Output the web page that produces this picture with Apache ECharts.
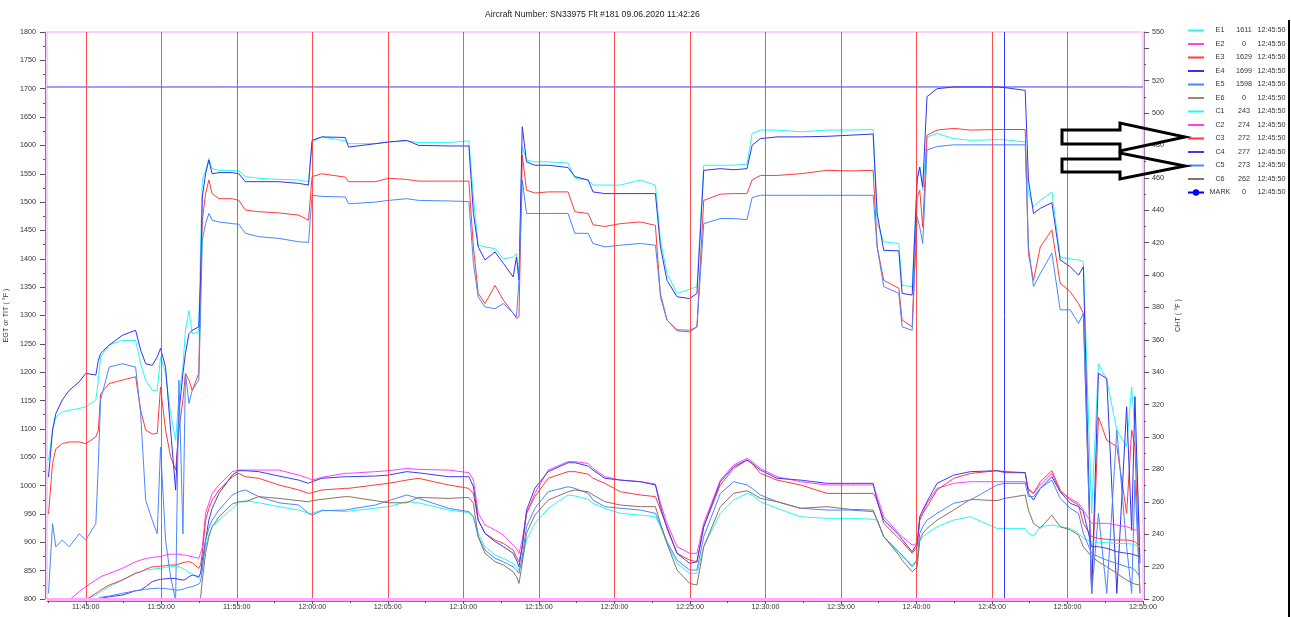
<!DOCTYPE html>
<html><head><meta charset="utf-8">
<script src="https://cdn.jsdelivr.net/npm/echarts@6/dist/echarts.min.js"></script>
<style>html,body{margin:0;padding:0;background:#fff}#c{width:1291px;height:617px}</style>
</head><body><div id="c"></div>
<script>
const titleText = 'Aircraft Number: SN33975 Flt #181 09.06.2020 11:42:26';
const axisStart = '11:42:26';
const axisEnd = '12:55:00';

const times = [
 '11:42:32','11:42:48','11:43:01','11:43:27','11:43:54','11:44:34','11:45:00','11:45:40','11:45:50','11:45:59',
 '11:46:33','11:47:25','11:48:18','11:48:38','11:48:58','11:49:24','11:49:44','11:49:57','11:50:17','11:50:37',
 '11:50:57','11:51:10','11:51:26','11:51:36','11:51:50','11:52:03','11:52:29','11:52:36','11:52:43','11:52:56',
 '11:53:09','11:53:22','11:53:49','11:54:42','11:55:08','11:55:34','11:56:27','11:57:47','11:59:06','11:59:45',
 '11:59:59','12:00:38',
 '12:02:11','12:02:24','12:04:10','12:05:03','12:06:15','12:07:02','12:09:01','12:10:22','12:10:40','12:10:59',
 '12:11:26','12:12:06','12:12:39','12:13:18','12:13:31','12:13:41','12:13:54','12:14:11','12:14:44','12:15:37',
 '12:16:56','12:17:23','12:18:16','12:18:35','12:19:22',
 '12:20:24','12:21:43','12:22:43','12:23:03','12:23:29','12:24:09','12:24:59','12:25:28','12:25:55','12:27:01',
 '12:27:54','12:28:47','12:29:07','12:29:40','12:30:46','12:32:19','12:34:05','12:35:38','12:37:08',
 '12:37:24','12:37:50','12:38:50','12:39:03','12:39:43','12:40:03','12:40:13','12:40:25','12:40:42','12:41:22',
 '12:42:28','12:43:34','12:45:20','12:45:50','12:47:12','12:47:25','12:47:45','12:48:12','12:48:58','12:49:31',
 '12:50:11','12:50:44','12:51:03','12:51:36','12:52:03','12:52:36','12:53:16','12:53:55','12:54:15','12:54:28',
 '12:54:48'
];

// EGT (left axis)
const E1 = [1045,1098,1121,1130,1133,1136,1139,1151,1186,1227,1248,1256,1256,1215,1186,1168,1168,1227,1198,1127,1080,1157,1209,1274,1309,1268,1271,1421,1539,1556,1577,1559,1556,1556,1555,1545,1542,1540,1539,1536,1606,1615,
 1608,1603,1603,1606,1608,1605,1605,1608,1509,1424,1421,1418,1400,1403,1409,1368,1598,1574,1571,1571,1569,1542,1539,1530,1530,
 1530,1539,1530,1433,1374,1339,1346,1351,1565,1565,1565,1567,1621,1627,1627,1624,1627,1627,1628,
 1462,1430,1427,1353,1351,1545,1562,1521,1615,1621,1612,1609,1610,1610,1606,1515,1492,1503,1518,1403,1400,1398,1395,951,1215,1186,1098,1069,1174,1098,904];
const E3 = [950,1039,1065,1074,1077,1077,1074,1086,1098,1162,1180,1186,1192,1133,1098,1091,1092,1174,1098,1051,1027,1098,1151,1198,1186,1168,1198,1362,1468,1515,1539,1515,1506,1506,1503,1486,1483,1481,1477,1468,1545,1550,
 1544,1536,1536,1542,1540,1537,1537,1537,1421,1339,1321,1353,1327,1304,1295,1298,1583,1521,1516,1518,1518,1483,1480,1460,1457,
 1462,1465,1459,1333,1292,1273,1271,1280,1503,1514,1515,1515,1539,1547,1547,1550,1556,1555,1556,
 1421,1362,1348,1292,1280,1509,1521,1456,1618,1627,1630,1627,1628,1628,1628,1409,1362,1421,1451,1357,1342,1321,1304,810,1121,1080,1069,951,1098,1069,810];
const E4 = [1015,1098,1127,1151,1168,1183,1198,1195,1221,1233,1248,1265,1274,1239,1215,1212,1227,1242,1209,1098,992,1127,1198,1233,1268,1274,1280,1362,1509,1550,1574,1550,1552,1552,1550,1536,1536,1536,1533,1530,1609,1615,
 1614,1597,1603,1606,1609,1600,1599,1599,1480,1421,1398,1412,1392,1368,1403,1362,1633,1571,1565,1565,1561,1545,1539,1518,1515,
 1515,1515,1515,1421,1362,1333,1330,1339,1556,1559,1557,1559,1600,1612,1615,1615,1616,1618,1620,
 1480,1415,1414,1339,1336,1539,1562,1527,1686,1700,1703,1703,1703,1702,1697,1539,1480,1489,1499,1398,1386,1371,1386,810,1198,1189,810,1139,921,1157,863];
const E5 = [810,933,892,904,892,915,904,933,1039,1151,1209,1215,1209,1127,974,939,915,1068,904,839,798,1186,915,1198,1145,1168,1186,1303,1433,1462,1480,1468,1465,1462,1461,1445,1439,1436,1430,1429,1512,1510,
 1509,1497,1500,1503,1506,1503,1502,1501,1392,1333,1315,1312,1321,1304,1298,1362,1539,1480,1480,1480,1480,1445,1445,1427,1421,
 1424,1427,1424,1339,1292,1275,1274,1280,1462,1471,1471,1469,1508,1512,1512,1512,1512,1512,1512,
 1421,1351,1339,1280,1274,1474,1456,1427,1592,1598,1601,1601,1601,1601,1601,1421,1351,1374,1410,1310,1310,1286,1304,810,951,810,1098,892,810,1010,810];
const E2 = [0, 0];   // at axisStart, axisEnd
const E6 = [0, 0];

// CHT (right axis)
const C1 = [185,187,189,192,195,198,200,202.4,203.5,204.5,207.6,211.7,216.2,216.8,217.9,218.3,218.9,218.9,219.5,220,220.3,220,218.9,217.9,216.2,215.4,212.7,211.7,220,232.3,239.5,244.6,248.7,255.9,260,260.7,259.4,257,254.9,252.9,252.9,254.9,
 253.9,254.3,256,257,260.1,259.4,254.9,253.3,250.8,240.5,232.3,227.1,225.1,222,220,217.9,224,236.4,246.7,255.9,264.2,263.6,261.5,259,255.9,
 252.9,251.8,250.8,244.6,234.3,222,215.8,215.8,232.3,252.9,261.1,265.2,264.2,260.1,256,250.8,249.8,249.8,249.2,
 248.7,238.5,228.2,226.1,221,224,235.4,238.5,240.5,244.6,248.7,250.8,243.6,243.6,243.6,240.5,238.9,244.6,245.7,244.6,243.6,240.5,237.4,235.4,234.8,234.8,234.3,234.3,233.9,233.3,232.3];
const C2 = [185,188,191,195,199.4,204.5,207.6,211.7,212.7,213.8,215.8,218.9,223,224,225,225.6,226.1,226.1,227.1,227.7,227.7,227.7,227.1,227.1,226.5,226.1,225.1,228.2,232.3,252.9,259.1,265.2,270.4,278.6,279.6,279.6,279.6,279.6,276.5,274.5,273.4,275.1,
 277.6,277.6,278.6,279.2,280.6,280,279.6,278,273.4,252.9,245.7,242.6,239.5,233.3,231.3,228.2,236.4,252.9,265.2,279.6,284.8,284.8,283.7,280.6,275.5,
 273.4,272.4,271,259.1,246.7,232.3,228.2,228.2,246.7,273.4,282.7,286.8,284.8,280.6,275.5,272.4,270.4,270.4,270.4,
 263.1,250.8,240.5,238.5,233.3,234.3,248.7,252.9,259.1,268.3,271.4,272.4,272.4,272.4,272.4,268.3,265.2,270.4,277.6,266.2,262.1,259.1,254.9,246.7,246.7,246.7,245.7,244.6,243.6,242.6,242.6];
const C3 = [182,184,186,189,192,196,199.4,203.5,204.5,205.5,208.6,211.7,215.8,216.8,218.3,219.9,219.9,220.3,220.5,221,221,221.6,222.4,222.8,223,222.4,218.9,221,228.2,248.7,255.9,261,267.3,275.5,277.5,275.5,274.5,270.4,267.3,265.2,265.6,267.3,
 268.3,268.3,270.4,271.4,273.4,274.5,270.4,268.3,265.2,248.7,240.5,236.4,234.3,230.2,226.1,223,232.3,252.9,263.2,274.5,278.6,278.6,277.1,274.5,271.4,
 266.2,264.2,263.2,255,244.6,228.2,224,223,244.6,270.4,280.6,285.8,283.7,277.6,273.4,270.4,265.2,265.2,265.2,
 261.1,246.7,237.4,235.4,228.2,232.3,248.7,252.9,257,267.3,274.5,277.5,279.2,278,277.9,267.3,265.2,272.4,279.2,267.3,261.1,258,246.7,238.5,237.4,236.8,236.4,236.4,236,235.4,232.3];
const C4 = [180,182,184,187,190,194,197,199.4,200,200.4,201.4,202.4,205.1,205.5,207.6,210.7,211.7,212.1,212.5,212.7,212.7,212.1,211.7,212.1,213.8,214.8,213.8,215.8,224,236.4,248.7,255.9,265.2,276.5,279.2,279.2,278.6,275.9,273.4,271.4,272.4,274.5,
 275.5,275.5,275.9,276.5,278.6,277.9,275.5,275.5,269.3,248.7,240.5,235.4,232.3,228.2,224,219.9,232.3,254.9,268.3,278.6,284.1,284.1,282.1,279.6,274.5,
 273.4,272.4,270.4,257,243.6,228.2,222,223,244.6,272.4,281.7,285.8,283.7,279.6,274.5,273.4,271.4,271.4,271.4,
 260.1,248.7,239.5,236.8,229.2,234.3,250.8,254.9,260.1,271.4,276.5,278.6,279.2,278.6,278,265.2,261.1,268.3,275.5,266.2,259.1,257,253.9,232.3,232.3,231.3,229.2,228.2,227.8,227.1,226.1];
const C5 = [182,184,186,189,192,195,198,199.8,200.4,201,201.8,203.5,205.1,205.5,206,206.4,206.6,206.6,206.4,206,205.5,205.5,206,206.6,207.2,207.6,209.2,210.7,217.9,236.4,243.6,248.7,254.9,264.2,266.2,267.3,263.2,259.4,258,252.9,251.8,254.5,
 254.9,255.3,258,260.7,264.2,262.1,256,253.9,250.8,238.5,230.2,225.1,223,219.9,217.9,215.8,226.1,244.6,256,266.2,269.3,268.3,265.2,261.1,257,
 256,254.9,252.9,245.7,235.4,224,217.9,217.9,238.5,265.2,272.4,270.4,268.3,264.2,260.1,256,254.9,254.9,253.9,
 248.7,238.5,229.2,227.1,219.9,224,240.5,244.6,248.7,252.9,259.1,261.1,270.4,271.4,271.4,263.2,263.2,268.3,273.4,262.1,256,252.9,240.5,228.2,226.1,224,222,219.9,219.2,217.9,213.8];
const C6 = [183,184,185,186,187,188,189,190,190,191,191,192,193,193,194,194,195,195,195,196,196,196,197,197,197,198,198,200.4,211.7,228.2,238.5,244.6,250.8,258.6,260,260,263.2,262.1,260.7,260,260.7,261.5,
 263.2,263.2,260.7,259.4,259.4,262.7,262.1,262.7,259,238.5,228.2,223,221,216.8,213.8,209.6,222,240.5,251.8,261.1,266.2,267.3,266.2,264.2,260.1,
 258,257,257,246.7,234.3,217.9,209.6,208.6,232.3,257,265.2,266.8,265.2,262.1,260.1,256,257,255.3,254.9,
 248.7,238.5,227.1,224,216.8,219.9,236.4,240.5,243.6,248.7,254.9,261.5,260.7,262.1,264.2,254.9,246.7,243.6,251.8,244.6,242.6,239.5,232.3,226.1,223,219.9,215.8,211.7,210.1,209.2,208.6];

const legendNames = ['E1','E2','E3','E4','E5','E6','C1','C2','C3','C4','C5','C6','MARK'];
const legendValues = [1611,0,1629,1699,1598,0,243,274,272,277,273,262,0];
const markTime = '12:45:50';
const gridLineTimes = ['11:45:00','11:50:00','11:55:00','12:00:00','12:05:00','12:10:00','12:15:00','12:20:00','12:25:00','12:30:00','12:35:00','12:40:00','12:45:00','12:50:00'];
const xLabelTimes = gridLineTimes.concat(['12:55:00']);
const xMinorTimes = ['11:42:30','11:47:30','11:52:30','11:57:30','12:02:30','12:07:30','12:12:30','12:17:30','12:22:30','12:27:30','12:32:30','12:37:30','12:42:30','12:47:30','12:52:30'];
const limitValue = 1703;
const egtMin = 800, egtMax = 1800, egtStep = 50;
const chtMin = 200, chtMax = 550, chtStep = 20, chtHidden = 540;

const colors = {E1:'#2af5f5',E2:'#ff40ff',E3:'#ff3a3a',E4:'#3232f0',E5:'#4a86ff',E6:'#a08478',
  C1:'#2af5f5',C2:'#ff40ff',C3:'#ff3a3a',C4:'#3c3cf0',C5:'#4a86ff',C6:'#8f7060',MARK:'#0000ff'};

function toMs(t){const p=t.split(':').map(Number);return new Date(2020,5,9,p[0],p[1],p[2]).getTime();}
function pad(n){return (n<10?'0':'')+n;}
function fmt(v){const d=new Date(v);return pad(d.getHours())+':'+pad(d.getMinutes())+':'+pad(d.getSeconds());}

function lineSeries(name, vals, yIdx){
  return {name, type:'line', yAxisIndex:yIdx, symbol:'none', showSymbol:false, silent:true, animation:false, z:3,
    data: times.map((t,i)=>[toMs(t), vals[i]]),
    lineStyle:{width:1,color:colors[name]}, itemStyle:{color:colors[name]}};
}
function flatSeries(name, vals, yIdx){
  return {name, type:'line', yAxisIndex:yIdx, symbol:'none', showSymbol:false, silent:true, animation:false, z:3,
    data: [[toMs(axisStart), vals[0]],[toMs(axisEnd), vals[1]]],
    lineStyle:{width:1,color:colors[name]}, itemStyle:{color:colors[name]}};
}

const blue = '#3a3aff';
const markLines = gridLineTimes.map(t=>({xAxis:toMs(t), lineStyle:{color:'#ff3030',width:1,type:'solid',opacity:0.85}}));
markLines.push({xAxis:toMs(markTime), lineStyle:{color:blue,width:1,type:'solid',opacity:1}});
markLines.push({yAxis:egtMin, lineStyle:{color:'#ffaaff',width:3,type:'solid',opacity:1}});

const series = [
  lineSeries('E1',E1,0), flatSeries('E2',E2,0), lineSeries('E3',E3,0), lineSeries('E4',E4,0), lineSeries('E5',E5,0), flatSeries('E6',E6,0),
  lineSeries('C1',C1,1), lineSeries('C2',C2,1), lineSeries('C3',C3,1), lineSeries('C4',C4,1), lineSeries('C5',C5,1), lineSeries('C6',C6,1),
  {name:'MARK', type:'line', yAxisIndex:0, data:[], symbol:'circle', symbolSize:5, z:1, animation:false,
   lineStyle:{width:1,color:colors.MARK}, itemStyle:{color:colors.MARK},
   markLine:{symbol:'none', silent:true, animation:false, label:{show:false},
     lineStyle:{color:blue,width:1,type:'solid'}, emphasis:{disabled:true}, data:markLines}},
  {name:'limit', type:'line', yAxisIndex:0, symbol:'none', showSymbol:false, silent:true, z:2, animation:false,
   data:[[toMs(axisStart), limitValue],[toMs(axisEnd), limitValue]],
   lineStyle:{width:1,color:blue}, itemStyle:{color:blue}}
];

const lblFont = 7.2;
const txt = '#333';
const option = {
  animation:false,
  textStyle:{fontFamily:'Liberation Sans, Arial, sans-serif'},
  title:{text:titleText, left:485, top:10, padding:0, textStyle:{fontSize:8.6, fontWeight:'normal', color:'#222', fontFamily:'Liberation Sans, Arial, sans-serif'}},
  grid:{left:47, right:148, top:32, bottom:18, show:true, borderColor:'#ff9cff', borderWidth:1, backgroundColor:'transparent', outerBoundsMode:'none', containLabel:false},
  legend:{orient:'vertical', left:1187, top:25, padding:0, itemWidth:16, itemHeight:8, itemGap:2.5, selectedMode:false,
    data:legendNames.map(n=>(n==='MARK'?{name:n}:{name:n, itemStyle:{opacity:0}})),
    formatter:function(name){const i=legendNames.indexOf(name);return '{n|'+name+'}{v|'+legendValues[i]+'}{t|'+markTime+'}';},
    textStyle:{fontSize:lblFont, color:txt, lineHeight:11, padding:[0,0,0,0],
      rich:{n:{width:22,align:'center',fontSize:lblFont,color:txt,lineHeight:11},
            v:{width:26,align:'center',fontSize:lblFont,color:txt,lineHeight:11},
            t:{width:29,align:'center',fontSize:lblFont,color:txt,lineHeight:11}}}},
  xAxis:[
    {type:'value', min:toMs(axisStart), max:toMs(axisEnd), position:'bottom', offset:2,
     axisLine:{show:true, lineStyle:{color:'#808080'}},
     axisTick:{show:true, length:3, lineStyle:{color:'#555'}, customValues:xLabelTimes.map(toMs)},
     splitLine:{show:false},
     axisLabel:{fontSize:lblFont, color:txt, margin:3, hideOverlap:false, customValues:xLabelTimes.map(toMs), formatter:function(v){return fmt(v);}}},
    {type:'value', min:toMs(axisStart), max:toMs(axisEnd), position:'bottom', offset:2,
     axisLine:{show:false},
     axisTick:{show:true, length:2, lineStyle:{color:'#555'}, customValues:xMinorTimes.map(toMs)},
     splitLine:{show:false},
     axisLabel:{show:false}}
  ],
  yAxis:[
    {type:'value', min:egtMin, max:egtMax, interval:egtStep, position:'left', offset:2,
     name:'EGT or TIT ( °F )', nameLocation:'middle', nameGap:30, nameRotate:90,
     nameTextStyle:{fontSize:lblFont, color:txt},
     axisLine:{show:true, lineStyle:{color:'#808080'}},
     axisTick:{show:true, length:5, lineStyle:{color:'#555'}},
     minorTick:{show:true, splitNumber:2, length:2, lineStyle:{color:'#555'}},
     splitLine:{show:false},
     axisLabel:{fontSize:lblFont, color:txt, margin:9, formatter:function(v){return String(v);}}},
    {type:'value', min:chtMin, max:chtMax, interval:chtStep, position:'right', offset:1,
     name:'CHT ( °F )', nameLocation:'middle', nameGap:30, nameRotate:90,
     nameTextStyle:{fontSize:lblFont, color:txt},
     axisLine:{show:true, lineStyle:{color:'#9a8aa8'}},
     axisTick:{show:true, length:5, lineStyle:{color:'#555'}},
     minorTick:{show:true, splitNumber:2, length:2, lineStyle:{color:'#555'}},
     splitLine:{show:false},
     axisLabel:{fontSize:lblFont, color:txt, margin:8, formatter:function(v){return v===chtHidden?'':String(v);}}}
  ],
  graphic:[
    {type:'polygon', z:100, silent:true, shape:{points:[[1062,130],[1120,130],[1120,123],[1185,137],[1120,151],[1120,144],[1062,144]]}, style:{fill:'none', stroke:'#000', lineWidth:3}},
    {type:'polygon', z:100, silent:true, shape:{points:[[1062,159],[1120,159],[1120,153],[1185,166],[1120,179],[1120,172],[1062,172]]}, style:{fill:'none', stroke:'#000', lineWidth:3}},
    {type:'line', z:100, silent:true, shape:{x1:1289, y1:20, x2:1289, y2:617}, style:{stroke:'#000', lineWidth:2}}
  ],
  series
};
const chart = echarts.init(document.getElementById('c'), null, {renderer:'canvas'});
chart.setOption(option);
</script>
</body></html>
